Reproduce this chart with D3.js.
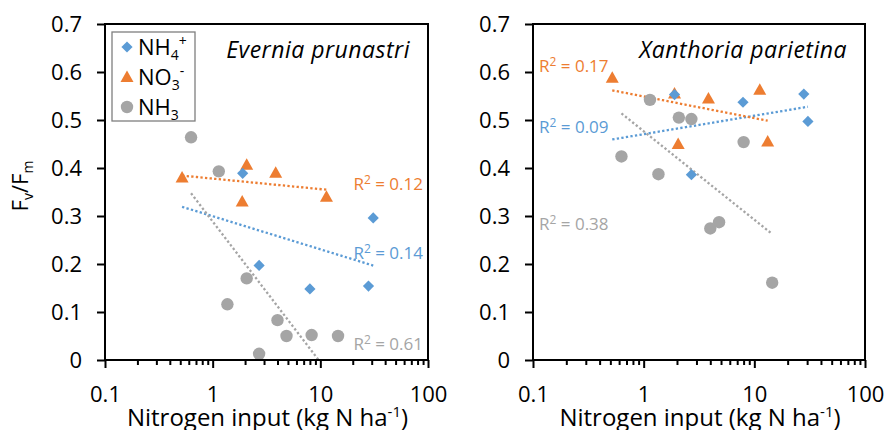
<!DOCTYPE html>
<html>
<head>
<meta charset="utf-8">
<script src="https://cdn.jsdelivr.net/npm/d3@7"></script>
<style>
  html, body { margin: 0; padding: 0; background: #fff; }
  svg { display: block; font-family: "Open Sans", "Noto Sans", sans-serif; }
</style>
</head>
<body>
<svg id="chart" width="887" height="430"></svg>
<script>
// ---- data ----
const seriesNames = ["NH4+", "NO3-", "NH3"];
const colors = ["#5B9BD5", "#ED7D31", "#A5A5A5"];

// Evernia prunastri
const evNH4x = [1.9, 2.7, 8.0, 28, 31];
const evNH4y = [0.389, 0.197, 0.148, 0.154, 0.296];
const evNO3x = [0.52, 2.07, 1.88, 3.85, 11.4];
const evNO3y = [0.380, 0.407, 0.330, 0.390, 0.340];
const evNH3x = [0.63, 1.14, 2.07, 1.37, 4.0, 4.85, 8.3, 14.6, 2.7];
const evNH3y = [0.464, 0.393, 0.170, 0.116, 0.083, 0.050, 0.052, 0.050, 0.013];
const evR2 = ["0.14", "0.12", "0.61"];

// Xanthoria parietina
const xpNH4x = [28, 30.5, 7.9, 2.7, 1.9];
const xpNH4y = [0.554, 0.497, 0.537, 0.386, 0.553];
const xpNO3x = [0.52, 1.9, 3.85, 11.2, 2.05, 13.2];
const xpNO3y = [0.588, 0.555, 0.545, 0.563, 0.450, 0.455];
const xpNH3x = [1.14, 0.63, 1.36, 2.08, 2.7, 8.0, 4.0, 4.8, 14.5];
const xpNH3y = [0.542, 0.424, 0.387, 0.505, 0.502, 0.454, 0.274, 0.287, 0.161];
const xpR2 = ["0.09", "0.17", "0.38"];

// trendline start (Excel log trendline, NH4+ extended backward)
const trendStartX = [0.52, 0.52, 0.63];

const xTicks = [0.1, 1, 10, 100];
const yTicks = [0, 0.1, 0.2, 0.3, 0.4, 0.5, 0.6, 0.7];

// ---- layout ----
const svg = d3.select("#chart");
const plotTop = 24, plotBottom = 360;

const panels = [
  {
    title: "Evernia prunastri", left: 105, right: 428,
    xs: [evNH4x, evNO3x, evNH3x], ys: [evNH4y, evNO3y, evNH3y], r2: evR2,
    legend: true,
    // label anchor: end-aligned near right edge, baseline at data y
    labelAnchor: "end", labelY: [0.21, 0.354, 0.02]
  },
  {
    title: "Xanthoria parietina", left: 533, right: 865,
    xs: [xpNH4x, xpNO3x, xpNH3x], ys: [xpNH4y, xpNO3y, xpNH3y], r2: xpR2,
    legend: false,
    labelAnchor: "start", labelY: [0.473, 0.6, 0.271]
  }
];

function logFit(xs, ys) {
  const lx = xs.map(v => Math.log10(v));
  const mx = d3.mean(lx), my = d3.mean(ys);
  let sxy = 0, sxx = 0;
  lx.forEach((v, i) => { sxy += (v - mx) * (ys[i] - my); sxx += (v - mx) ** 2; });
  const slope = sxy / sxx;
  return v => my + slope * (Math.log10(v) - mx);
}

function marker(g, type, color) {
  if (type === 0) {
    g.append("path").attr("d", d3.symbol(d3.symbolDiamond2, 80)()).attr("fill", color);
  } else if (type === 1) {
    g.append("path").attr("d", "M0,-6.5L6.5,5L-6.5,5Z").attr("fill", color);
  } else {
    g.append("circle").attr("r", 6.2).attr("fill", color);
  }
}

panels.forEach((p, pi) => {
  const x = d3.scaleLog().domain([0.1, 100]).range([p.left, p.right]);
  const y = d3.scaleLinear().domain([0, 0.7]).range([plotBottom, plotTop]);
  const g = svg.append("g");

  const clipId = "clip" + pi;
  svg.append("clipPath").attr("id", clipId)
    .append("rect").attr("x", p.left).attr("y", plotTop)
    .attr("width", p.right - p.left).attr("height", plotBottom - plotTop);

  // trendlines
  p.xs.forEach((xs, si) => {
    const f = logFit(xs, p.ys[si]);
    const x0 = trendStartX[si], x1 = d3.max(xs);
    const pts = d3.range(0, 41).map(k => {
      const v = Math.exp(Math.log(x0) + (Math.log(x1) - Math.log(x0)) * k / 40);
      return [x(v), y(f(v))];
    });
    g.append("path")
      .attr("d", d3.line()(pts))
      .attr("fill", "none")
      .attr("stroke", colors[si])
      .attr("stroke-width", 2.3)
      .attr("stroke-dasharray", "2.3,2.3")
      .attr("clip-path", `url(#${clipId})`);
  });

  // points, draw grey first then orange then blue to match overlap
  [2, 1, 0].forEach(si => {
    p.xs[si].forEach((xv, i) => {
      const m = g.append("g").attr("transform", `translate(${x(xv)},${y(p.ys[si][i])})`);
      marker(m, si, colors[si]);
    });
  });

  // R2 labels
  p.r2.forEach((r, si) => {
    const t = g.append("text")
      .attr("x", p.labelAnchor === "end" ? p.right - 5 : p.left + 6)
      .attr("y", y(p.labelY[si]))
      .attr("text-anchor", p.labelAnchor)
      .attr("fill", colors[si])
      .attr("font-size", 17);
    t.append("tspan").text("R");
    t.append("tspan").attr("font-size", 12).attr("dy", -6).text("2");
    t.append("tspan").attr("dy", 6).text(" = " + r);
  });

  // frame
  g.append("rect")
    .attr("x", p.left).attr("y", plotTop)
    .attr("width", p.right - p.left).attr("height", plotBottom - plotTop)
    .attr("fill", "none").attr("stroke", "#000").attr("stroke-width", 2);

  // axes
  const yAxis = g.append("g").attr("transform", `translate(${p.left},0)`)
    .call(d3.axisLeft(y).tickValues(yTicks).tickSize(8).tickPadding(15)
      .tickFormat(d => d === 0 ? "0" : d3.format(".1f")(d)));
  const minor = [];
  [0.1, 1, 10].forEach(d => { for (let k = 2; k <= 9; k++) minor.push(d * k); });
  const xMinor = g.append("g").attr("transform", `translate(0,${plotBottom})`)
    .call(d3.axisBottom(x).tickValues(minor).tickSize(5).tickFormat(""));
  const xAxis = g.append("g").attr("transform", `translate(0,${plotBottom})`)
    .call(d3.axisBottom(x).tickValues(xTicks).tickSize(8).tickPadding(18)
      .tickFormat(d => String(d)));
  [yAxis, xMinor, xAxis].forEach(a => {
    a.select(".domain").remove();
    a.selectAll("line").attr("stroke", "#000").attr("stroke-width", 2);
    a.selectAll("text").attr("font-size", 22).attr("fill", "#000")
      .attr("font-family", "'Open Sans', sans-serif");
  });

  // panel title
  g.append("text")
    .attr("x", p.right - 18).attr("y", 58)
    .attr("text-anchor", "end")
    .attr("font-style", "italic")
    .attr("font-size", 23)
    .attr("letter-spacing", 0.5)
    .text(p.title);

  // x-axis title
  const xt = g.append("text")
    .attr("x", (p.left + p.right) / 2 + 1).attr("y", 426)
    .attr("text-anchor", "middle")
    .attr("font-size", 24);
  xt.append("tspan").text("Nitrogen input (kg N ha");
  xt.append("tspan").attr("font-size", 15).attr("dy", -9).text("-1");
  xt.append("tspan").attr("dy", 9).text(")");

  // legend
  if (p.legend) {
    const lg = g.append("g");
    lg.append("rect").attr("x", 112).attr("y", 32).attr("width", 83).attr("height", 89)
      .attr("fill", "#fff").attr("stroke", "#7f7f7f").attr("stroke-width", 1.3);
    const rows = [
      { base: "NH", sub: "4", sup: "+" },
      { base: "NO", sub: "3", sup: "-" },
      { base: "NH", sub: "3", sup: "" }
    ];
    rows.forEach((r, i) => {
      const cy = 47 + i * 30;
      const m = lg.append("g").attr("transform", `translate(127,${cy})`);
      marker(m, i, colors[i]);
      const t = lg.append("text").attr("x", 138).attr("y", cy + 8).attr("font-size", 22);
      t.append("tspan").text(r.base);
      t.append("tspan").attr("font-size", 14).attr("dy", 5).text(r.sub);
      if (r.sup) t.append("tspan").attr("font-size", 14).attr("dy", -14).text(r.sup);
    });
  }
});

// y-axis title (left only)
const yt = svg.append("text")
  .attr("transform", "translate(28,186) rotate(-90)")
  .attr("text-anchor", "middle")
  .attr("font-size", 22);
yt.append("tspan").text("F");
yt.append("tspan").attr("font-size", 14).attr("dy", 5).text("v");
yt.append("tspan").attr("dy", -5).text("/F");
yt.append("tspan").attr("font-size", 14).attr("dy", 5).text("m");
</script>
</body>
</html>
